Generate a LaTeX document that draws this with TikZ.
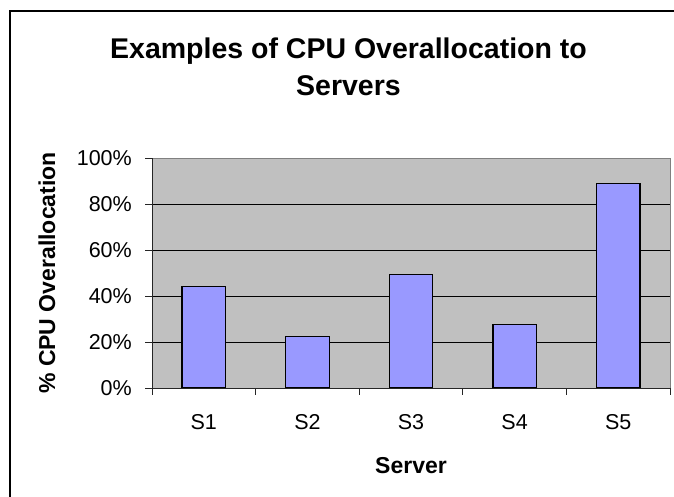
\documentclass[tikz,border=0pt]{standalone}
\usepackage{fontspec}
\setmainfont{Liberation Sans}
\definecolor{barblue}{RGB}{153,153,255}
\definecolor{plotgray}{RGB}{192,192,192}
\definecolor{edgegray}{RGB}{128,128,128}
\begin{document}
\begin{tikzpicture}[x=1pt,y=-1pt,
  barbox/.style={draw=black, line width=1.3pt, fill=barblue},
  gridline/.style={draw=black, line width=1pt},
  ticklabel/.style={font=\fontsize{21.5}{24}\selectfont, inner sep=0pt},
  axistitle/.style={font=\bfseries\fontsize{23}{26}\selectfont, inner sep=0pt},
  charttitle/.style={font=\bfseries\fontsize{28.5}{34}\selectfont, inner sep=0pt},
  tickmark/.style={draw=black!85, line width=1pt}]
\useasboundingbox (0,0) rectangle (674,496);
% chart frame (runs off the page right and bottom)
\draw[line width=2pt] (10,505) -- (10,11) -- (685,11);
% title
\node[charttitle, anchor=base] (t1) at (348.5,58) {Examples of CPU Overallocation to};
\node[charttitle, anchor=base] (t2) at (348.5,95) {Servers};
% plot area
\fill[plotgray] (152,158) rectangle (670,388);
\foreach \y in {342,296,250,204} \draw[gridline] (152,\y) -- (670,\y);
\draw[edgegray, line width=1pt] (152,158) -- (670,158) -- (670,388);
% bars
\foreach \i/\v in {1/0.44,2/0.225,3/0.495,4/0.275,5/0.89}{
  \pgfmathsetmacro{\c}{152+103.6*(\i-0.5)}
  \pgfmathsetmacro{\t}{388-230*\v}
  \draw[barbox] (\c-21.75,388) rectangle (\c+21.75,\t);
}
% axes
\draw[black!85, line width=1pt] (152,158) -- (152,388) -- (670,388);
\foreach \y in {158,204,250,296,342,388} \draw[tickmark] (145,\y) -- (152,\y);
\foreach \k in {0,...,5} \draw[tickmark] (152+103.6*\k,388) -- (152+103.6*\k,395);
% y tick labels
\node[ticklabel, anchor=east] (y100) at (132,158) {100\%};
\node[ticklabel, anchor=east] (y80) at (132,204) {80\%};
\node[ticklabel, anchor=east] (y60) at (132,250) {60\%};
\node[ticklabel, anchor=east] (y40) at (132,296) {40\%};
\node[ticklabel, anchor=east] (y20) at (132,342) {20\%};
\node[ticklabel, anchor=east] (y0) at (132,388) {0\%};
% x tick labels
\node[ticklabel, anchor=base] (s1) at (203.8,429.3) {S1};
\node[ticklabel, anchor=base] (s2) at (307.4,429.3) {S2};
\node[ticklabel, anchor=base] (s3) at (411.0,429.3) {S3};
\node[ticklabel, anchor=base] (s4) at (514.6,429.3) {S4};
\node[ticklabel, anchor=base] (s5) at (618.2,429.3) {S5};
% axis titles
\node[axistitle, anchor=base] (xt) at (411,473) {Server};
\node[axistitle, anchor=base, rotate=90] (yt) at (55,273) {\% CPU Overallocation};
\end{tikzpicture}
\end{document}
